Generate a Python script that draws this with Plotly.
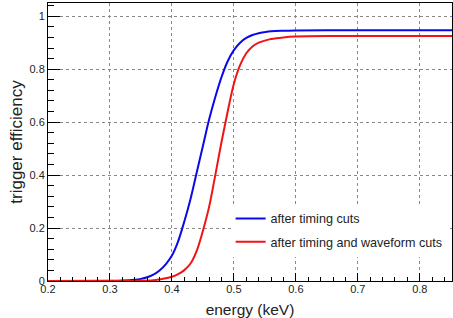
import plotly.graph_objects as go

# Energy (keV) and efficiency values
energy_timing = [0.20, 0.30, 0.32, 0.34, 0.35, 0.36, 0.37, 0.38, 0.39, 0.40, 0.41, 0.42,
                 0.43, 0.44, 0.45, 0.46, 0.47, 0.48, 0.49, 0.50, 0.51, 0.52, 0.53, 0.54,
                 0.55, 0.56, 0.58, 0.60, 0.65, 0.75, 0.852]
eff_timing = [0.0, 0.001, 0.002, 0.005, 0.008, 0.014, 0.024, 0.040, 0.063, 0.096, 0.150, 0.225,
              0.31, 0.41, 0.51, 0.61, 0.695, 0.77, 0.83, 0.872, 0.90, 0.918, 0.929, 0.936,
              0.940, 0.943, 0.945, 0.946, 0.947, 0.947, 0.947]

energy_waveform = [0.20, 0.35, 0.37, 0.38, 0.39, 0.40, 0.41, 0.42, 0.43, 0.44, 0.45, 0.46,
                   0.47, 0.48, 0.49, 0.50, 0.51, 0.52, 0.53, 0.54, 0.55, 0.56, 0.58, 0.60,
                   0.65, 0.75, 0.852]
eff_waveform = [0.0, 0.001, 0.003, 0.006, 0.010, 0.016, 0.026, 0.041, 0.066, 0.114, 0.19, 0.28,
                0.40, 0.525, 0.64, 0.745, 0.815, 0.860, 0.886, 0.900, 0.908, 0.914, 0.920, 0.923,
                0.925, 0.925, 0.925]

x_ticks = [0.2, 0.3, 0.4, 0.5, 0.6, 0.7, 0.8]
y_ticks = [0, 0.2, 0.4, 0.6, 0.8, 1]

fig = go.Figure()
fig.add_trace(go.Scatter(x=energy_timing, y=eff_timing, mode="lines",
                         line=dict(color="#0a0ae6", width=2, shape="spline", smoothing=1),
                         name="after timing cuts", legendgroup="a"))
fig.add_trace(go.Scatter(x=energy_waveform, y=eff_waveform, mode="lines",
                         line=dict(color="#f01414", width=2, shape="spline", smoothing=1),
                         name="after timing and waveform cuts", legendgroup="b"))

font_family = "Liberation Sans, Arial, sans-serif"
fig.update_layout(
    width=453, height=318,
    margin=dict(l=48, r=1, t=3, b=37),
    paper_bgcolor="white", plot_bgcolor="white",
    font=dict(family=font_family, size=11, color="#222"),
    showlegend=True,
    legend=dict(x=0.452, y=0.278, xanchor="left", yanchor="top",
                bgcolor="white", borderwidth=0, tracegroupgap=4,
                font=dict(size=12.6, color="#222"), traceorder="grouped"),
)
fig.update_xaxes(
    range=[0.2, 0.852], tickvals=x_ticks, ticktext=[f"{v:g}" for v in x_ticks],
    ticks="inside", ticklen=8, tickwidth=1, tickcolor="black", ticklabelstandoff=-2,
    minor=dict(dtick=0.02, tick0=0.2, ticks="inside", ticklen=4, tickcolor="black", showgrid=False),
    showline=True, linecolor="black", linewidth=1, mirror=True,
    showgrid=True, gridcolor="#888", griddash="dot", gridwidth=1,
    zeroline=False,
    title=dict(text="energy (keV)", font=dict(size=15.5, color="#222"), standoff=9),
)
fig.update_yaxes(
    range=[0, 1.05], tickvals=y_ticks, ticktext=[f"{v:g}" for v in y_ticks],
    ticks="inside", ticklen=12, tickwidth=1, tickcolor="black",
    minor=dict(dtick=0.04, tick0=0, ticks="inside", ticklen=6, tickcolor="black", showgrid=False),
    showline=True, linecolor="black", linewidth=1, mirror=True,
    showgrid=True, gridcolor="#888", griddash="dot", gridwidth=1,
    zeroline=False,
    title=dict(text="trigger efficiency", font=dict(size=17, color="#222"), standoff=2),
)

fig.write_html("out.html")
